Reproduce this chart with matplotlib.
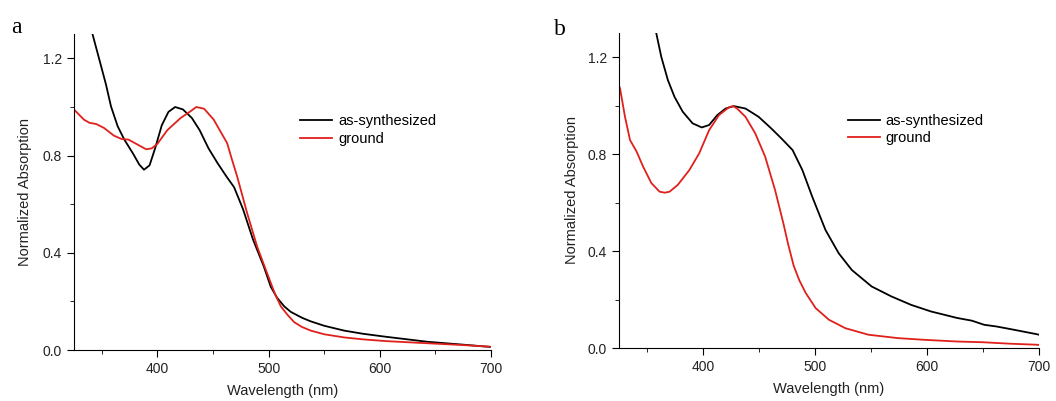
import matplotlib
matplotlib.use("Agg")
import matplotlib.pyplot as plt
from matplotlib.ticker import MultipleLocator, FormatStrFormatter

plt.rcParams['font.family'] = ['Liberation Sans', 'DejaVu Sans']

# panel a
wl_a_syn = [325, 333, 341.7, 347.8, 353.8, 358.3, 364.3, 370.3, 377.8, 383.8, 388, 393, 398, 404,
            410, 416, 423, 431, 438, 446, 454, 462, 469, 477, 486, 495.7, 502, 507.7, 514,
            520, 530, 538, 550, 568, 585, 605, 625, 643, 673, 699]
ab_a_syn = [1.55, 1.42, 1.30, 1.196, 1.093, 1.003, 0.921, 0.866, 0.811, 0.763, 0.742, 0.76, 0.83,
            0.925, 0.98, 1.0, 0.99, 0.955, 0.905, 0.83, 0.77, 0.715, 0.67, 0.58, 0.455, 0.344,
            0.26, 0.215, 0.18, 0.157, 0.133, 0.118, 0.1, 0.08, 0.067, 0.055, 0.044, 0.034,
            0.023, 0.013]
wl_a_gr = [325, 334, 339, 345, 352, 361, 368, 374, 384, 390, 395, 400, 409, 421, 430, 435, 442,
           450.7, 456, 462.7, 467, 471.7, 480.7, 489.7, 498.7, 506, 511, 517, 523, 530, 538,
           550, 568, 585, 605, 643, 673, 699]
ab_a_gr = [0.99, 0.948, 0.935, 0.93, 0.914, 0.882, 0.868, 0.866, 0.841, 0.826, 0.83, 0.848,
           0.905, 0.955, 0.983, 1.0, 0.993, 0.948, 0.905, 0.852, 0.785, 0.715, 0.564, 0.426,
           0.316, 0.228, 0.18, 0.145, 0.115, 0.095, 0.08, 0.065, 0.052, 0.044, 0.037, 0.028,
           0.021, 0.014]

# panel b
wl_b_syn = [345, 352, 358.5, 362.9, 368.8, 374.7, 382, 390.8, 399, 405.6, 412.9, 420.3, 427.6,
            438, 449.7, 461, 470, 480, 488.8, 497.6, 509.4, 521.2, 532.9, 550.6, 568.2, 585.9,
            603.5, 627, 640, 651, 662, 677, 697, 700]
ab_b_syn = [1.55, 1.42, 1.297, 1.201, 1.105, 1.036, 0.975, 0.927, 0.91, 0.92, 0.961, 0.988,
            0.998, 0.988, 0.954, 0.906, 0.865, 0.817, 0.734, 0.624, 0.487, 0.391, 0.322, 0.254,
            0.213, 0.178, 0.151, 0.124, 0.113, 0.096, 0.089, 0.076, 0.058, 0.055]
wl_b_gr = [325, 326.1, 330.5, 335, 340.9, 346.7, 354.1, 361.4, 366, 370.3, 377.6, 387.9, 396.7,
           405.6, 414.4, 423.2, 427, 430.5, 438, 446.8, 455.6, 464.4, 471.8, 476, 481, 486,
           491.8, 500.6, 512.4, 527.1, 547.7, 574.1, 597.7, 627, 650, 674, 697, 700]
ab_b_gr = [1.085, 1.071, 0.954, 0.858, 0.81, 0.748, 0.68, 0.645, 0.641, 0.645, 0.673, 0.734,
           0.803, 0.899, 0.961, 0.993, 0.998, 0.988, 0.954, 0.885, 0.789, 0.652, 0.515, 0.43,
           0.34, 0.28, 0.227, 0.165, 0.117, 0.082, 0.055, 0.041, 0.034, 0.027, 0.024, 0.018,
           0.014, 0.013]

fig = plt.figure(figsize=(10.56, 4.01), dpi=100)
ax_a = fig.add_axes([0.070, 0.127, 0.395, 0.788])
ax_b = fig.add_axes([0.586, 0.132, 0.398, 0.786])

panels = [(ax_a, wl_a_syn, ab_a_syn, wl_a_gr, ab_a_gr, 'a', 0.011, 0.918, 0.529, 0.765, 8),
          (ax_b, wl_b_syn, ab_b_syn, wl_b_gr, ab_b_gr, 'b', 0.525, 0.913, 0.531, 0.762, 6)]

for ax, xs, ys, xg, yg, tag, tx, ty, lx, ly, pad in panels:
    ax.plot(xs, ys, color='black', lw=1.3, label='as-synthesized')
    ax.plot(xg, yg, color='#e0201b', lw=1.3, label='ground')
    ax.set_xlim(325, 700)
    ax.set_ylim(0, 1.3)
    ax.spines['top'].set_visible(False)
    ax.spines['right'].set_visible(False)
    ax.xaxis.set_major_locator(MultipleLocator(100))
    ax.xaxis.set_minor_locator(MultipleLocator(50))
    ax.yaxis.set_major_locator(MultipleLocator(0.4))
    ax.yaxis.set_minor_locator(MultipleLocator(0.2))
    ax.yaxis.set_major_formatter(FormatStrFormatter('%.1f'))
    ax.tick_params(which='major', direction='out', length=5, labelsize=10, labelcolor='#222222')
    ax.tick_params(which='minor', direction='out', length=3)
    ax.set_xlabel('Wavelength (nm)', fontsize=10.5, labelpad=6, color='#222222')
    ax.set_ylabel('Normalized Absorption', fontsize=10.5, labelpad=pad, color='#222222')
    ax.legend(loc='upper left', bbox_to_anchor=(lx, ly), frameon=False, fontsize=10.5,
              handlelength=2.2, handletextpad=0.4, labelspacing=0.25, borderaxespad=0)
    fig.text(tx, ty, tag, fontsize=17, family='Liberation Serif')

fig.savefig('out.png', dpi=100)
